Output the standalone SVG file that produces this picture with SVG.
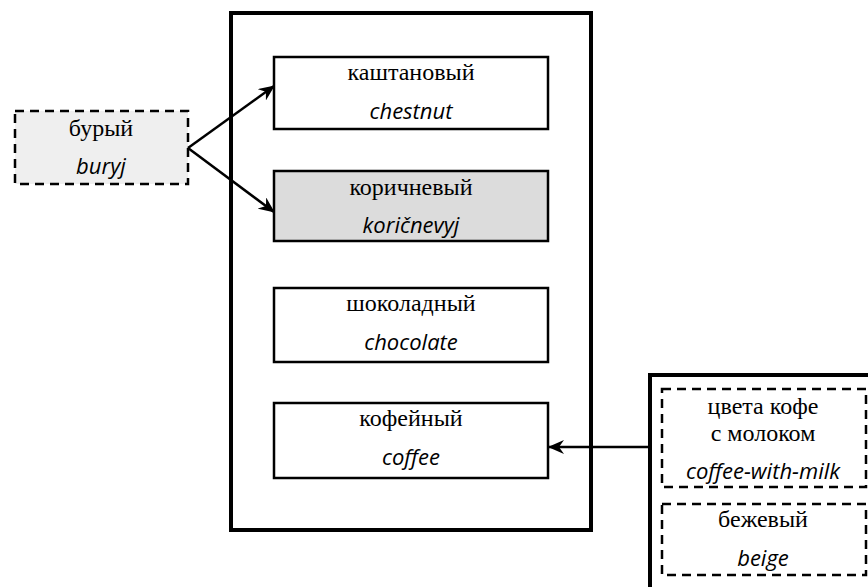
<svg xmlns="http://www.w3.org/2000/svg" width="868" height="587" viewBox="0 0 868 587">
<defs>
<style>
.box{fill:#fff;stroke:#000;stroke-width:2.5}
.dash{stroke:#000;stroke-width:2.5;stroke-dasharray:9,6}
.frame{fill:none;stroke:#000;stroke-width:4}
.ru{font-family:"Liberation Serif","DejaVu Serif",serif;font-size:24px;text-anchor:middle;fill:#000}
.la{font-family:"Open Sans","Noto Sans",sans-serif;font-style:italic;font-size:22px;text-anchor:middle;fill:#000}
.edge{fill:none;stroke:#000;stroke-width:2.5}
</style>
<marker id="arr" markerWidth="16" markerHeight="14" refX="15" refY="7" orient="auto" markerUnits="userSpaceOnUse">
<path d="M0,0 L16,7 L0,14 L5,7 Z" fill="#000"/>
</marker>
</defs>
<rect width="868" height="587" fill="#fff"/>
<g id="container">
<rect class="frame" x="231" y="13" width="360" height="517"/>
</g>
<g id="buryj">
<rect class="dash" x="15" y="111" width="173" height="73" fill="#efefef"/>
<text class="ru" x="101" y="136">бурый</text>
<text class="la" x="101" y="174">buryj</text>
</g>
<g id="kashtanovyj">
<rect class="box" x="274" y="57" width="274" height="72"/>
<text class="ru" x="411" y="80">каштановый</text>
<text class="la" x="411" y="119">chestnut</text>
</g>
<g id="korichnevyj">
<rect class="box" x="274" y="171" width="274" height="70" style="fill:#dcdcdc"/>
<text class="ru" x="411" y="195">коричневый</text>
<text class="la" x="411" y="233">koričnevyj</text>
</g>
<g id="shokoladnyj">
<rect class="box" x="274" y="288" width="274" height="74"/>
<text class="ru" x="411" y="311">шоколадный</text>
<text class="la" x="411" y="350">chocolate</text>
</g>
<g id="kofejnyj">
<rect class="box" x="274" y="403" width="274" height="75"/>
<text class="ru" x="411" y="426">кофейный</text>
<text class="la" x="411" y="465">coffee</text>
</g>
<g id="right-group">
<rect class="frame" x="650" y="375" width="230" height="230"/>
</g>
<g id="coffee-with-milk">
<rect class="dash" x="662" y="389" width="204" height="98" fill="#fff"/>
<text class="ru" x="763" y="414">цвета кофе</text>
<text class="ru" x="763" y="441">с молоком</text>
<text class="la" x="763" y="479">coffee-with-milk</text>
</g>
<g id="beige">
<rect class="dash" x="662" y="504" width="204" height="71" fill="#fff"/>
<text class="ru" x="763" y="527">бежевый</text>
<text class="la" x="763" y="566">beige</text>
</g>
<g id="connectors">
<path class="edge" d="M188,148 L274,86" marker-end="url(#arr)"/>
<path class="edge" d="M188,148 L274,212" marker-end="url(#arr)"/>
<path class="edge" d="M648,447 L549,447" marker-end="url(#arr)"/>
</g>
</svg>
